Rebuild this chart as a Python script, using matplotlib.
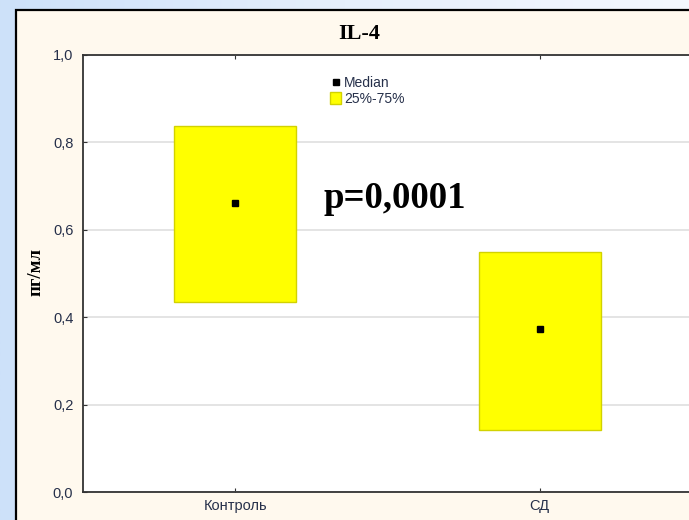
import numpy as np
import matplotlib
matplotlib.use("Agg")
import matplotlib.pyplot as plt
from matplotlib.patches import Rectangle
from matplotlib.colors import LinearSegmentedColormap

groups = ["Контроль", "СД"]
q25 = [0.435, 0.142]
q75 = [0.837, 0.549]
median = [0.661, 0.373]
yticks = [0.0, 0.2, 0.4, 0.6, 0.8, 1.0]
ytick_labels = ["0,0", "0,2", "0,4", "0,6", "0,8", "1,0"]

W, H = 689, 520
fig = plt.figure(figsize=(W / 100, H / 100), dpi=100)

# bluish window background
bg = fig.add_axes([0, 0, 1, 1], zorder=-10)
cmap = LinearSegmentedColormap.from_list("bg", ["#cde1f9", "#e6effc", "#f4f8fe"])
bg.imshow(np.linspace(0, 1, 256)[None, :], aspect="auto", cmap=cmap,
          extent=[0, 1, 0, 1])
bg.set_axis_off()

# cream graph panel with black frame
fig.patches.append(Rectangle((16 / W, -0.1), 1.2, (H - 10) / H + 0.1,
                             transform=fig.transFigure, facecolor="#fff9ee",
                             edgecolor="black", linewidth=1.6, zorder=-5))

ax = fig.add_axes([83 / W, 28 / H, (692 - 83) / W, 437 / H])
ax.set_facecolor("white")

x = np.arange(1, len(groups) + 1)
width = 0.4
for xi, lo, hi in zip(x, q25, q75):
    ax.add_patch(Rectangle((xi - width / 2, lo), width, hi - lo,
                           facecolor="#ffff00", edgecolor="#d2d200",
                           linewidth=1.0, zorder=3))
ax.plot(x, median, linestyle="none", marker="s", markersize=4.8,
        color="black", zorder=4)

ax.set_xlim(0.5, 2.5)
ax.set_ylim(0, 1.0)
ax.set_yticks(yticks)
ax.set_yticklabels(ytick_labels)
ax.set_xticks(x)
ax.set_xticklabels(groups)
ax.grid(axis="y", color="#e2e2e2", linewidth=1.3, zorder=0)
ax.tick_params(axis="both", direction="in", length=3, width=0.8,
               labelsize=10.5, colors="#333333")
ax.tick_params(axis="x", top=True, pad=5)
ax.tick_params(axis="y", pad=7)
for lab in ax.get_xticklabels() + ax.get_yticklabels():
    lab.set_fontfamily("Liberation Sans")
    lab.set_color("#26304a")
for side in ["left", "top", "bottom", "right"]:
    ax.spines[side].set_color("#333333")
    ax.spines[side].set_linewidth(1.3)

fig.text(359 / W, 1 - 34 / H, "IL-4", ha="center", va="center",
         fontsize=16, fontweight="bold", family="Liberation Serif")
fig.text(36 / W, 1 - 272 / H, "пг/мл", ha="center", va="center",
         rotation=90, fontsize=13.5, fontweight="bold",
         family="Liberation Serif")

fig.text(323 / W, 1 - 199 / H, "p=0,0001", ha="left", va="center",
         fontsize=26.5, fontweight="bold", family="Liberation Serif")

# legend
ax.plot([], [], linestyle="none", marker="s", markersize=4.5,
        color="black", label="Median")
ax.add_patch(Rectangle((0, 0), 0, 0, facecolor="#ffff00",
                       edgecolor="#d2d200", label="25%-75%"))
leg = ax.legend(loc="upper left", bbox_to_anchor=(240 / 609, 1 - 14 / 437),
                frameon=False, handlelength=0.8, handleheight=0.9,
                handletextpad=0.2, labelspacing=0.15, borderpad=0,
                prop={"family": "Liberation Sans", "size": 10})
for t in leg.get_texts():
    t.set_color("#26304a")

fig.savefig("out.png", dpi=100)
